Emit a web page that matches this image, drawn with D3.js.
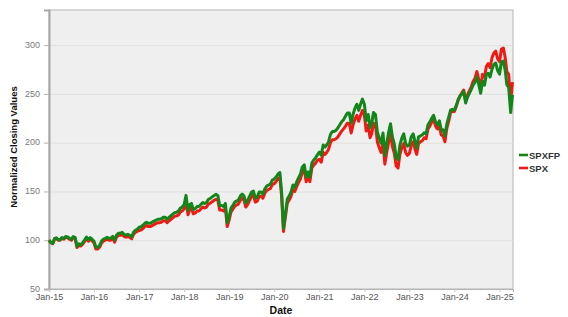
<!DOCTYPE html>
<html>
<head>
<meta charset="utf-8">
<script src="https://cdn.jsdelivr.net/npm/d3@7"></script>
<style>
  body { margin: 0; background: #fff; }
  text { font-family: Arial, "Liberation Sans", sans-serif; }
</style>
</head>
<body>
<div id="chart"></div>
<script>
// semi-monthly readings (1st and 16th of each month), Jan 2015 .. Apr 2025
const firstDate = new Date(2015, 0, 1);

const spx = [
  100,97.5, 96.5,101.5, 102,100, 100,102, 101,103, 102.5,101, 100,102.5, 101.5,92.5, 95,94, 96,98.5, 101.5,99, 101,99.5,
  97,91, 91,93, 97,99, 100,101, 100,100, 102,98, 103,105, 105,106, 104,103, 104,103, 101.5,106, 108,109,
  110,110.5, 112,114, 115,114, 114,115, 116,117, 118,118, 118.5,120, 120,118, 120,121.5, 123,124.5, 125,126, 129,130,
  132,141, 126,132, 133,127, 128,130, 130,132, 134,133, 134,137, 138,139.5, 141,142, 141,131, 131,130, 133,114,
  121,129, 132,135, 136,137, 141,143, 141,134, 137,141, 145,146, 139,140, 145,145, 143,148, 151,152, 153,157,
  158,160, 163,164.5, 145,109, 124,138, 141,145, 152,150, 155,159, 163,170, 172,160, 165,160, 174,177, 179,182,
  183,180, 190,188, 190,193, 200,203, 203,204, 206,209, 212,214, 217,220, 220,210, 218,224, 228,222, 228,233,
  228,212, 218,205, 209,220, 218,201, 195,190, 200,178, 190,200, 209,196, 189,176, 174,188, 195,199, 190,187,
  189,197, 201,193, 188,199, 201,202, 205,204, 214,217, 221,224, 217,214, 217,208, 207,201, 215,222, 231,232,
  232,237, 244,248, 251,254, 243,249, 253,257, 263,266, 273,265, 257,270, 267,278, 281,277, 287,292, 294,286,
  283,296, 297,287, 273,270, 243,262
];

const spxfp = [
  100,97.7, 96.8,101.9, 102.4,100.5, 100.6,102.7, 101.8,103.9, 103.4,102, 101.1,103.7, 102.8,93.8, 96.4,95.4, 97.5,100.1, 103.2,100.7, 102.7,101.1,
  98.9,92.8, 92.8,94.9, 98.9,101, 102,103, 102,102, 104,100, 105.1,107.1, 107.1,108.1, 106.1,105.1, 106.1,105.1, 103.5,108.1, 110.2,111.2,
  113.3,113.8, 115.4,117.4, 118.5,117.4, 117.4,118.5, 119.5,120.5, 121.5,121.5, 122.1,123.6, 123.6,121.5, 123.6,125.1, 126.7,128.2, 128.8,129.8, 132.9,133.9,
  136.6,146, 130.4,136.6, 137.7,131.4, 132.5,134.6, 134.6,136.6, 138.7,137.7, 138.7,141.8, 142.8,144.4, 145.9,147, 145.9,135.6, 135.6,134.6, 137.7,118,
  124.6,132.9, 136,139.1, 140.1,141.1, 145.2,147.3, 145.2,138, 141.1,145.2, 149.4,150.4, 143.2,144.2, 149.4,149.4, 147.3,152.4, 155.5,156.6, 157.6,161.7,
  162.7,164.8, 167.9,169.4, 149.4,112.3, 127.7,142.1, 145.2,149.4, 156.6,154.5, 159.7,163.8, 167.9,175.1, 177.2,164.8, 170,164.8, 179.2,182.3, 184.4,187.5,
  190.3,187.2, 197.6,195.5, 197.6,200.7, 208.4,211.5, 211.5,212.6, 215.3,218.4, 221.5,223.6, 227.2,230.3, 230.3,219.9, 228.9,235.2, 239.4,233.1, 239.4,244.7,
  239.4,222.6, 228.9,215.3, 219.5,231, 228.9,211.1, 204.8,199.5, 210,186.9, 199.5,210, 219.5,205.8, 198.5,184.8, 182.7,197.4, 204.8,209, 199.5,196.4,
  197.5,205.9, 209,200.7, 194.6,206, 207,208.1, 210.1,209.1, 218.3,221.3, 225,228, 221.3,218.3, 222.4,213.2, 213.2,207, 219.3,226.4, 233.3,234.3,
  233.2,238.2, 244,248, 249.7,252.7, 240.6,246.5, 250.5,254.4, 259.1,262, 267.5,259.7, 250.6,263.3, 259,269.7, 271.2,267.3, 275.5,280.3, 281.7,274,
  270.3,282.7, 283.6,274.1, 259.4,256.5, 230.9,249
];

const yTicks = [50, 100, 150, 200, 250, 300];
const seriesNames = ['SPXFP', 'SPX'];

const dates = spx.map((v, i) => new Date(2015, Math.floor(i / 2), i % 2 ? 16 : 1));

const width = 568;
const height = 317;
const margin = { top: 10, right: 55, bottom: 28, left: 49 };
const innerW = width - margin.left - margin.right;
const innerH = height - margin.top - margin.bottom;

const svg = d3.select('#chart').append('svg')
  .attr('width', width)
  .attr('height', height);

const x = d3.scaleTime()
  .domain([firstDate, new Date(2025, 3, 20)])
  .range([0, innerW]);

const y = d3.scaleLinear()
  .domain([50, 336])
  .range([innerH, 0]);

const g = svg.append('g')
  .attr('transform', `translate(${margin.left}, ${margin.top})`);

g.append('rect')
  .attr('width', innerW)
  .attr('height', innerH)
  .attr('fill', '#efefef')
  .attr('stroke', '#b4b4b4')
  .attr('stroke-width', 1);

// gridlines
g.selectAll('.grid')
  .data(yTicks.slice(1))
  .enter()
  .append('line')
  .attr('x1', 0)
  .attr('x2', innerW)
  .attr('y1', (d) => y(d) + 0.5)
  .attr('y2', (d) => y(d) + 0.5)
  .attr('stroke', '#e0e0e0');

// y axis
const yAxis = d3.axisLeft(y).tickValues(yTicks).tickSize(5).tickPadding(4);
const gy = g.append('g').call(yAxis);
gy.select('.domain').attr('stroke', '#a8a8a8').attr('stroke-width', 2);
gy.selectAll('.tick line').attr('stroke', '#b4b4b4');
gy.selectAll('text').attr('fill', '#7a7a7a').attr('font-size', 9).attr('dy', '0.25em');

// x axis
const xAxis = d3.axisBottom(x)
  .ticks(d3.timeYear.every(1))
  .tickFormat(d3.timeFormat('Jan-%y'))
  .tickSize(3)
  .tickPadding(2);
const gx = g.append('g')
  .attr('transform', `translate(0, ${innerH})`)
  .call(xAxis);
gx.select('.domain').attr('stroke', '#b4b4b4');
gx.selectAll('.tick line').attr('stroke', '#c8c8c8');
gx.selectAll('text').attr('fill', '#555').attr('font-size', 9);

// lines
const line = (values) => d3.line()
  .x((d, i) => x(dates[i]))
  .y((d) => y(d))(values);

g.append('path')
  .attr('d', line(spx))
  .attr('fill', 'none')
  .attr('stroke', '#f01a14')
  .attr('stroke-width', 3)
  .attr('stroke-linejoin', 'round');

g.append('path')
  .attr('d', line(spxfp))
  .attr('fill', 'none')
  .attr('stroke', '#13861a')
  .attr('stroke-width', 3)
  .attr('stroke-linejoin', 'round');

// axis titles
svg.append('text')
  .attr('x', margin.left + innerW / 2)
  .attr('y', 314)
  .attr('text-anchor', 'middle')
  .attr('font-size', 10.5)
  .attr('font-weight', 'bold')
  .attr('fill', '#111')
  .text('Date');

svg.append('text')
  .attr('transform', `translate(17, 147) rotate(-90)`)
  .attr('text-anchor', 'middle')
  .attr('font-size', 9.5)
  .attr('font-weight', 'bold')
  .attr('fill', '#111')
  .text('Normalized Closing Values');

// legend
const legendColors = ['#13861a', '#f01a14'];
const legend = svg.append('g').attr('transform', 'translate(519, 155)');
seriesNames.forEach((name, i) => {
  const row = legend.append('g').attr('transform', `translate(0, ${i * 13})`);
  row.append('line')
    .attr('x1', 0).attr('x2', 9)
    .attr('stroke', legendColors[i])
    .attr('stroke-width', 2.6);
  row.append('text')
    .attr('x', 10)
    .attr('y', 3.5)
    .attr('font-size', 9.5)
    .attr('font-weight', 'bold')
    .attr('fill', '#333')
    .text(name);
});
</script>
</body>
</html>
